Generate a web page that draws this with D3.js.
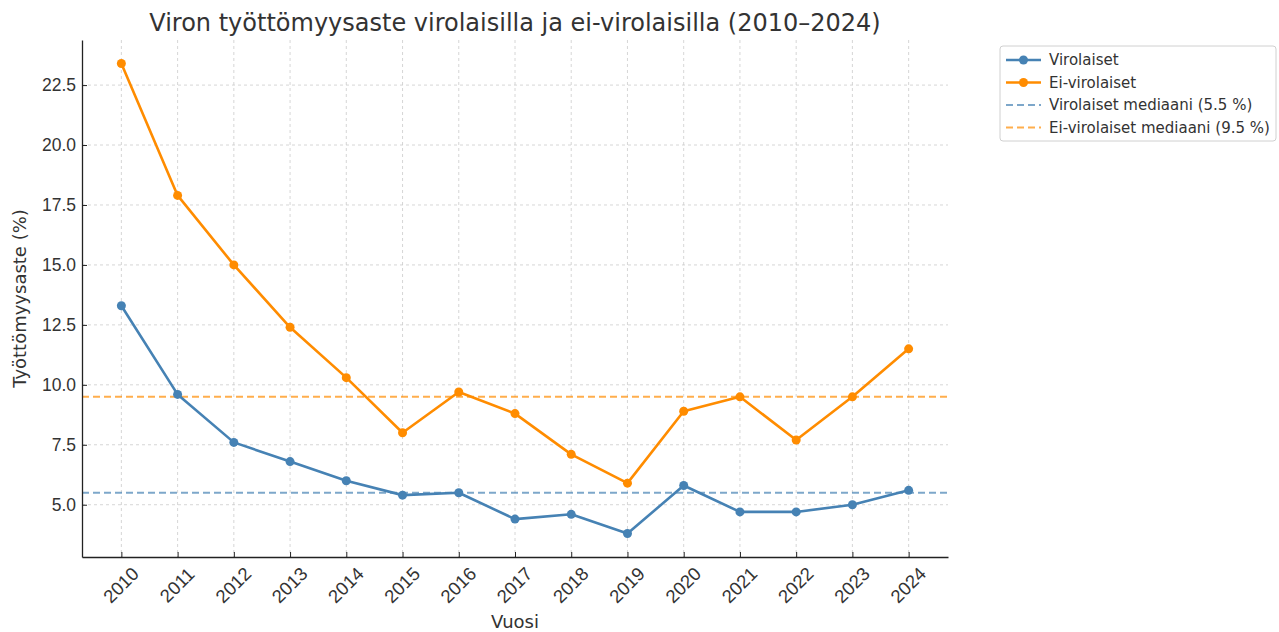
<!DOCTYPE html>
<html>
<head>
<meta charset="utf-8">
<script src="https://cdn.jsdelivr.net/npm/d3@7"></script>
<style>
  body { margin: 0; background: #fff; }
  svg { font-family: "DejaVu Sans", sans-serif; }
</style>
</head>
<body>
<div id="chart"></div>
<script>
// data
var years = [2010, 2011, 2012, 2013, 2014, 2015, 2016, 2017, 2018, 2019, 2020, 2021, 2022, 2023, 2024];
var virolaiset = [13.3, 9.6, 7.6, 6.8, 6.0, 5.4, 5.5, 4.4, 4.6, 3.8, 5.8, 4.7, 4.7, 5.0, 5.6];
var eiVirolaiset = [23.4, 17.9, 15.0, 12.4, 10.3, 8.0, 9.7, 8.8, 7.1, 5.9, 8.9, 9.5, 7.7, 9.5, 11.5];
var yTicks = [5.0, 7.5, 10.0, 12.5, 15.0, 17.5, 20.0, 22.5];
var seriesNames = ['Virolaiset', 'Ei-virolaiset'];
var colors = ['#4682b4', '#ff8c00'];

var width = 1279, height = 632;
var margin = { left: 82, right: 331, top: 40, bottom: 75 };

var svg = d3.select('#chart').append('svg')
  .attr('width', width)
  .attr('height', height);

var x = d3.scaleLinear()
  .domain([2010 - 0.7, 2024 + 0.7])
  .range([margin.left, width - margin.right]);

var allVals = virolaiset.concat(eiVirolaiset);
var yMin = d3.min(allVals), yMax = d3.max(allVals);
var pad = (yMax - yMin) * 0.05;
var y = d3.scaleLinear()
  .domain([yMin - pad, yMax + pad])
  .range([height - margin.bottom, margin.top]);

var plotBottom = height - margin.bottom;

// grid
var grid = svg.append('g');
grid.selectAll('.gx').data(years).enter().append('line')
  .attr('x1', function (d) { return x(d); })
  .attr('x2', function (d) { return x(d); })
  .attr('y1', margin.top).attr('y2', plotBottom)
  .attr('stroke', '#cccccc').attr('stroke-width', 0.8)
  .attr('stroke-dasharray', '3,3');
grid.selectAll('.gy').data(yTicks).enter().append('line')
  .attr('x1', margin.left).attr('x2', width - margin.right)
  .attr('y1', function (d) { return y(d); })
  .attr('y2', function (d) { return y(d); })
  .attr('stroke', '#cccccc').attr('stroke-width', 0.8)
  .attr('stroke-dasharray', '3,3');

// medians
var medians = [d3.median(virolaiset), d3.median(eiVirolaiset)];
svg.selectAll('.median').data(medians).enter().append('line')
  .attr('x1', margin.left).attr('x2', width - margin.right)
  .attr('y1', function (d) { return y(d); })
  .attr('y2', function (d) { return y(d); })
  .attr('stroke', function (d, i) { return colors[i]; })
  .attr('stroke-opacity', 0.7)
  .attr('stroke-width', 2)
  .attr('stroke-dasharray', '7,4');

// lines
var series = [virolaiset, eiVirolaiset];
var line = d3.line()
  .x(function (d, i) { return x(years[i]); })
  .y(function (d) { return y(d); });

series.forEach(function (s, k) {
  svg.append('path')
    .datum(s)
    .attr('d', line)
    .attr('fill', 'none')
    .attr('stroke', colors[k])
    .attr('stroke-width', 2.6)
    .attr('stroke-linejoin', 'round');
  svg.selectAll('.dot' + k).data(s).enter().append('circle')
    .attr('cx', function (d, i) { return x(years[i]); })
    .attr('cy', function (d) { return y(d); })
    .attr('r', 4.5)
    .attr('fill', colors[k]);
});

// axes
var xAxis = d3.axisBottom(x).tickValues(years).tickFormat(d3.format('d'))
  .tickSizeInner(-5).tickSizeOuter(0);
var gx = svg.append('g')
  .attr('transform', 'translate(0,' + plotBottom + ')')
  .call(xAxis);
gx.select('.domain').attr('stroke', '#222').attr('stroke-width', 1.3);
gx.selectAll('.tick line').attr('stroke', '#222');
gx.selectAll('.tick text')
  .attr('font-size', 18.5)
  .attr('fill', '#333')
  .attr('text-anchor', 'middle')
  .attr('y', 0)
  .attr('dy', '0.35em')
  .attr('transform', 'translate(-1,28) rotate(-45)');

var yAxis = d3.axisLeft(y).tickValues(yTicks).tickFormat(d3.format('.1f'))
  .tickSizeInner(-5).tickSizeOuter(0).tickPadding(6);
var gy = svg.append('g')
  .attr('transform', 'translate(' + margin.left + ',0)')
  .call(yAxis);
gy.select('.domain').attr('stroke', '#222').attr('stroke-width', 1.3);
gy.selectAll('.tick line').attr('stroke', '#222');
gy.selectAll('.tick text').attr('font-size', 17.5).attr('fill', '#333');

// labels
svg.append('text')
  .attr('x', (margin.left + width - margin.right) / 2)
  .attr('y', 31)
  .attr('text-anchor', 'middle')
  .attr('font-size', 24)
  .attr('fill', '#333')
  .text('Viron työttömyysaste virolaisilla ja ei-virolaisilla (2010–2024)');

svg.append('text')
  .attr('x', (margin.left + width - margin.right) / 2)
  .attr('y', 628)
  .attr('text-anchor', 'middle')
  .attr('font-size', 18)
  .attr('fill', '#333')
  .text('Vuosi');

svg.append('text')
  .attr('transform', 'translate(26,' + ((margin.top + plotBottom) / 2) + ') rotate(-90)')
  .attr('text-anchor', 'middle')
  .attr('font-size', 18)
  .attr('fill', '#333')
  .text('Työttömyysaste (%)');

// legend
var legendItems = [
  { label: seriesNames[0], color: colors[0], dash: false },
  { label: seriesNames[1], color: colors[1], dash: false },
  { label: 'Virolaiset mediaani (' + medians[0].toFixed(1) + ' %)', color: colors[0], dash: true },
  { label: 'Ei-virolaiset mediaani (' + medians[1].toFixed(1) + ' %)', color: colors[1], dash: true }
];
var lg = svg.append('g').attr('transform', 'translate(1000,46)');
lg.append('rect')
  .attr('width', 276).attr('height', 95)
  .attr('rx', 3)
  .attr('fill', '#fff')
  .attr('stroke', '#d0d0d0');
var rows = lg.selectAll('.row').data(legendItems).enter().append('g')
  .attr('transform', function (d, i) { return 'translate(0,' + (14 + i * 22.5) + ')'; });
rows.append('line')
  .attr('x1', 6).attr('x2', 41)
  .attr('stroke', function (d) { return d.color; })
  .attr('stroke-width', function (d) { return d.dash ? 2 : 2.6; })
  .attr('stroke-opacity', function (d) { return d.dash ? 0.7 : 1; })
  .attr('stroke-dasharray', function (d) { return d.dash ? '7,4' : null; });
rows.filter(function (d) { return !d.dash; }).append('circle')
  .attr('cx', 23.5).attr('r', 4.5)
  .attr('fill', function (d) { return d.color; });
rows.append('text')
  .attr('x', 49).attr('dy', '0.35em')
  .attr('font-size', 15)
  .attr('fill', '#333')
  .text(function (d) { return d.label; });
</script>
</body>
</html>
